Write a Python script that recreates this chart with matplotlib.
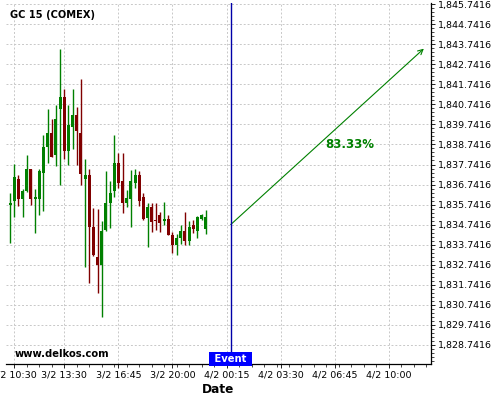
import matplotlib
matplotlib.use('Agg')
import matplotlib.pyplot as plt
from matplotlib.ticker import AutoMinorLocator, FixedLocator

# OHLC candles (15 min)
opens = [1835.73, 1835.92, 1837.00, 1836.03, 1836.43, 1837.50, 1836.03, 1836.03,
         1837.33, 1838.60, 1839.30, 1838.20, 1840.50, 1841.10, 1838.40, 1839.60,
         1840.20, 1839.30, 1837.03, 1837.23, 1834.63, 1833.13, 1832.71, 1834.46,
         1835.80, 1836.40, 1837.80, 1836.90, 1835.83, 1836.03, 1836.83, 1837.20,
         1836.10, 1835.06, 1835.61, 1834.97, 1835.21, 1834.91, 1835.01, 1834.21,
         1833.74, 1834.09, 1834.41, 1833.91, 1834.71, 1834.42, 1835.04, 1834.51]
closes = [1835.80, 1837.10, 1836.00, 1836.40, 1837.50, 1836.03, 1836.10, 1837.40,
          1838.60, 1839.30, 1838.10, 1840.00, 1841.10, 1838.40, 1839.70, 1840.20,
          1839.40, 1837.25, 1837.23, 1834.63, 1833.21, 1832.71, 1834.41, 1835.80,
          1836.33, 1837.80, 1836.83, 1835.83, 1836.08, 1836.90, 1837.23, 1835.90,
          1835.01, 1835.61, 1834.88, 1834.93, 1834.83, 1835.01, 1834.24, 1833.74,
          1834.09, 1834.41, 1833.91, 1834.62, 1834.51, 1835.12, 1835.24, 1835.12]
highs = [1836.30, 1837.79, 1837.20, 1836.50, 1838.20, 1837.50, 1836.50, 1837.50,
         1839.20, 1840.50, 1840.00, 1840.70, 1843.49, 1841.50, 1840.70, 1841.50,
         1840.60, 1842.00, 1838.00, 1837.50, 1835.56, 1835.51, 1834.91, 1837.40,
         1836.90, 1839.20, 1838.30, 1838.30, 1836.48, 1837.45, 1837.50, 1837.40,
         1836.30, 1835.80, 1835.80, 1835.80, 1835.38, 1835.88, 1835.21, 1834.38,
         1834.29, 1834.71, 1835.38, 1834.91, 1834.99, 1835.16, 1835.29, 1835.49]
lows = [1833.81, 1835.11, 1835.66, 1835.11, 1836.35, 1835.71, 1834.31, 1835.21,
        1835.41, 1837.80, 1838.10, 1837.67, 1836.70, 1838.00, 1837.70, 1838.50,
        1837.70, 1836.70, 1832.61, 1831.81, 1833.16, 1831.31, 1830.11, 1834.41,
        1834.56, 1836.10, 1836.55, 1835.31, 1835.61, 1834.61, 1836.55, 1835.66,
        1834.96, 1833.61, 1834.38, 1834.46, 1834.38, 1834.71, 1834.21, 1833.33,
        1833.21, 1833.76, 1833.71, 1833.71, 1834.32, 1834.09, 1834.96, 1834.29]

tick_pos = [1, 13, 26, 39, 52, 65, 78, 91]
tick_labels = ['3/2 10:30', '3/2 13:30', '3/2 16:45', '3/2 20:00',
               '4/2 00:15', '4/2 03:30', '4/2 06:45', '4/2 10:00']
price_ticks = [1828.7416 + k for k in range(18)]

event_idx = 53
event_price = 1834.7416
target_idx = 99.4
target_price = 1843.53
prob_text = '83.33%'

fig = plt.figure(figsize=(5, 4), dpi=100)
ax = fig.add_axes([0.012, 0.09, 0.849, 0.9025])

green = '#008000'
red = '#800000'
for i in range(len(opens)):
    o, c = opens[i], closes[i]
    col = green if c >= o else red
    ax.vlines(i, lows[i], highs[i], color=col, lw=1, zorder=3)
    h = max(abs(c - o), 0.06)
    ax.bar(i, h, bottom=min(o, c), width=0.72, color=col, lw=0, zorder=4)

ax.set_xlim(-1, 101)
ax.set_ylim(1827.775, 1845.81)

ax.yaxis.tick_right()
ax.yaxis.set_major_locator(FixedLocator(price_ticks))
ax.set_yticklabels(['{:,.4f}'.format(p) for p in price_ticks])
ax.yaxis.set_minor_locator(AutoMinorLocator(5))
ax.set_xticks(tick_pos)
ax.set_xticklabels(tick_labels)
ax.xaxis.set_minor_locator(AutoMinorLocator(4))
ax.tick_params(axis='both', which='major', labelsize=6.8, length=3, width=0.6, pad=2)
ax.tick_params(axis='both', which='minor', length=2, width=0.5)

ax.grid(True, which='major', color='#c8c8c8', linestyle=(0, (2, 2)), lw=0.7)
ax.spines['top'].set_visible(False)
ax.spines['left'].set_visible(False)
ax.spines['right'].set_linewidth(0.9)
ax.spines['bottom'].set_linewidth(0.9)

ax.set_xlabel('Date', fontsize=8.7, fontweight='bold', labelpad=2)

ax.axvline(event_idx, color='#0000a8', lw=1, zorder=5)
ax.annotate('', xy=(target_idx, target_price), xytext=(event_idx, event_price),
            arrowprops=dict(arrowstyle='->', color=green, lw=0.8,
                            shrinkA=0, shrinkB=0, mutation_scale=9))
ax.text(81.7, 1838.75, prob_text, color=green, fontsize=8.5, fontweight='bold',
        ha='center', va='center')

ax.text(event_idx, 1827.775, ' Event ', color='white', fontsize=7.2,
        fontweight='bold', ha='center', va='bottom', zorder=6,
        bbox=dict(boxstyle='square,pad=0.2', fc='#0000ff', ec='none'))
ax.text(0.0094, 0.967, 'GC 15 (COMEX)', transform=ax.transAxes, fontsize=7.1,
        fontweight='bold', ha='left', va='center')
ax.text(0.021, 0.028, 'www.delkos.com', transform=ax.transAxes, fontsize=7.2,
        fontweight='bold', ha='left', va='center')

fig.savefig('out.png', dpi=100)
